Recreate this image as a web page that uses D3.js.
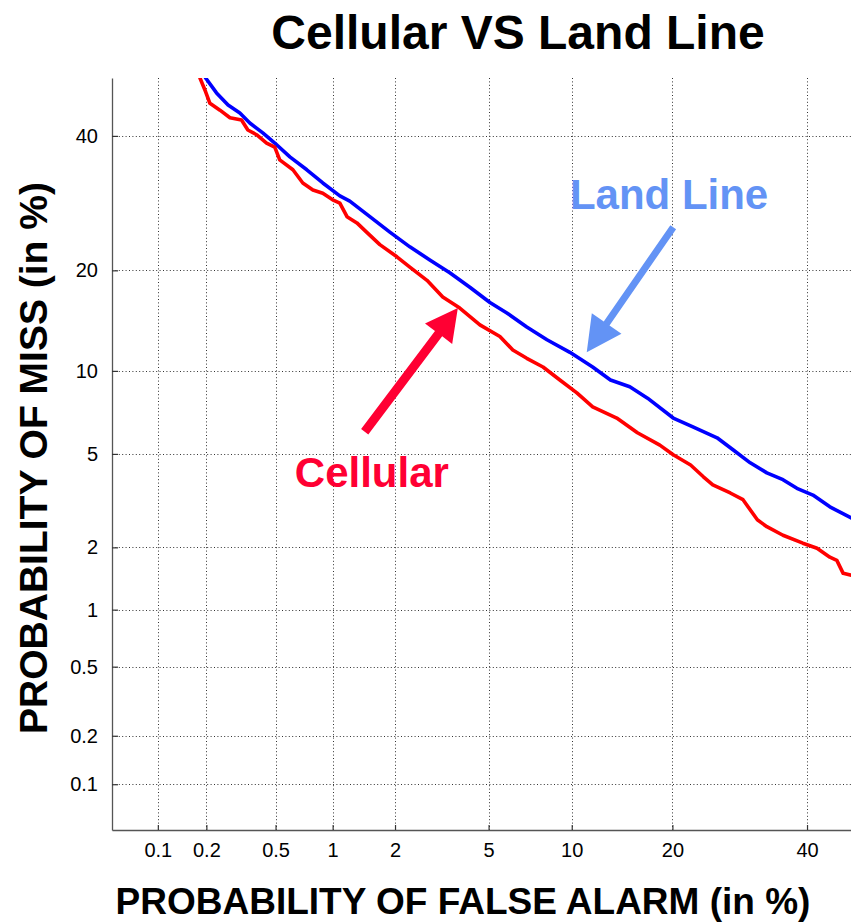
<!DOCTYPE html>
<html>
<head>
<meta charset="utf-8">
<script src="https://cdn.jsdelivr.net/npm/d3@7"></script>
<style>
  html, body { margin: 0; padding: 0; background: #fff; }
  svg { display: block; font-family: "Liberation Sans", Arial, Helvetica, sans-serif; }
</style>
</head>
<body>
<svg id="chart" width="851" height="924"></svg>
<script>
// Tick positions (percent) and their labels, shared by both axes
const tickValues = [0.1, 0.2, 0.5, 1, 2, 5, 10, 20, 40];
const tickLabels = ["0.1", "0.2", "0.5", "1", "2", "5", "10", "20", "40"];

// DET curve: Land Line (false alarm %, miss %)
const landLinePfa = [0.198, 0.230, 0.269, 0.315, 0.359, 0.425, 0.495, 0.598, 0.736, 0.891,
  1.087, 1.218, 1.524, 1.893, 2.335, 2.86, 3.48, 4.21, 5.06, 5.88,
  6.97, 8.23, 9.86, 11.7, 13.3, 15.2, 17.1, 20.1, 22.6, 25.9,
  28.2, 30.8, 33.4, 36.0, 38.3, 41.0, 43.9, 47.6, 50];
const landLinePmiss = [50, 47.4, 45.3, 43.9, 42.2, 40.5, 38.8, 36.5, 34.4, 32.3,
  30.3, 29.5, 27.2, 25.0, 23.0, 21.3, 19.7, 18.0, 16.3, 15.2,
  13.8, 12.6, 11.5, 10.3, 9.32, 8.83, 8.06, 6.84, 6.34, 5.77,
  5.19, 4.61, 4.20, 3.94, 3.63, 3.40, 3.03, 2.71, 2.55];

// DET curve: Cellular (false alarm %, miss %)
const cellularPfa = [0.183, 0.198, 0.210, 0.241, 0.276, 0.322, 0.350, 0.392, 0.446, 0.495,
  0.527, 0.621, 0.701, 0.792, 0.891, 1.00, 1.087, 1.18, 1.32, 1.47,
  1.70, 2.04, 2.335, 2.78, 3.25, 3.83, 4.62, 5.53, 6.19, 6.97,
  7.97, 9.12, 10.4, 11.7, 13.9, 16.0, 18.5, 20.1, 22.3, 24.0,
  25.3, 27.8, 29.7, 31.9, 33.4, 36.0, 39.3, 41.7, 43.9, 45.1,
  46.2, 47.6, 50];
const cellularPmiss = [50, 47.6, 45.6, 44.4, 43.1, 42.7, 41.0, 40.2, 38.8, 38.1,
  36.0, 34.4, 32.3, 31.2, 30.7, 29.7, 29.2, 27.2, 26.3, 25.0,
  23.3, 21.7, 20.4, 18.8, 16.9, 15.7, 14.0, 12.9, 11.7, 11.0,
  10.3, 9.32, 8.41, 7.51, 6.84, 6.03, 5.41, 4.96, 4.52, 4.05,
  3.75, 3.47, 3.25, 2.66, 2.48, 2.27, 2.09, 1.98, 1.80, 1.74,
  1.51, 1.48, 1.46];

// Axis limits in percent
const axisMin = 0.05, axisMax = 50;

// Inverse of the standard normal CDF (Acklam's rational approximation)
function probit(p) {
  const a = [-3.969683028665376e+01, 2.209460984245205e+02, -2.759285104469687e+02, 1.383577518672690e+02, -3.066479806614716e+01, 2.506628277459239e+00];
  const b = [-5.447609879822406e+01, 1.615858368580409e+02, -1.556989798598866e+02, 6.680131188771972e+01, -1.328068155288572e+01];
  const c = [-7.784894002430293e-03, -3.223964580411365e-01, -2.400758277161838e+00, -2.549732539343734e+00, 4.374664141464968e+00, 2.938163982698783e+00];
  const d = [7.784695709041462e-03, 3.224671290700398e-01, 2.445134137142996e+00, 3.754408661907416e+00];
  const pl = 0.02425, ph = 1 - pl;
  let q, r;
  if (p < pl) {
    q = Math.sqrt(-2 * Math.log(p));
    return (((((c[0]*q+c[1])*q+c[2])*q+c[3])*q+c[4])*q+c[5]) / ((((d[0]*q+d[1])*q+d[2])*q+d[3])*q+1);
  }
  if (p <= ph) {
    q = p - 0.5; r = q * q;
    return (((((a[0]*r+a[1])*r+a[2])*r+a[3])*r+a[4])*r+a[5])*q / (((((b[0]*r+b[1])*r+b[2])*r+b[3])*r+b[4])*r+1);
  }
  q = Math.sqrt(-2 * Math.log(1 - p));
  return -(((((c[0]*q+c[1])*q+c[2])*q+c[3])*q+c[4])*q+c[5]) / ((((d[0]*q+d[1])*q+d[2])*q+d[3])*q+1);
}
const dev = pct => probit(pct / 100);

// Plot frame
const plot = { left: 112, right: 865, top: 78, bottom: 830 };

// Normal-deviate scales
const xs = d3.scaleLinear().domain([dev(axisMin), dev(axisMax)]).range([plot.left, plot.right]);
const ys = d3.scaleLinear().domain([dev(axisMin), dev(axisMax)]).range([plot.bottom, plot.top]);
const x = pct => xs(dev(pct));
const y = pct => ys(dev(pct));

const svg = d3.select("#chart");

svg.append("defs").append("clipPath").attr("id", "plotClip")
  .append("rect")
  .attr("x", plot.left).attr("y", plot.top)
  .attr("width", plot.right - plot.left).attr("height", plot.bottom - plot.top);

// Dotted grid
const grid = svg.append("g").attr("stroke", "#333").attr("stroke-width", 1)
  .attr("stroke-dasharray", "1,2.4");
grid.selectAll("line.vx").data(tickValues).join("line")
  .attr("x1", d => Math.round(x(d)) + 0.5).attr("x2", d => Math.round(x(d)) + 0.5)
  .attr("y1", plot.top).attr("y2", plot.bottom);
grid.selectAll("line.hy").data(tickValues).join("line")
  .attr("y1", d => Math.round(y(d)) + 0.5).attr("y2", d => Math.round(y(d)) + 0.5)
  .attr("x1", plot.left).attr("x2", plot.right);

// Axes
const tickDev = tickValues.map(dev);
const fmt = v => tickLabels[tickDev.indexOf(v)];

const xAxis = svg.append("g")
  .attr("transform", `translate(0,${plot.bottom})`)
  .call(d3.axisBottom(xs).tickValues(tickDev).tickFormat(fmt)
    .tickSizeInner(-5).tickSizeOuter(0).tickPadding(13));
const yAxis = svg.append("g")
  .attr("transform", `translate(${plot.left},0)`)
  .call(d3.axisLeft(ys).tickValues(tickDev).tickFormat(fmt)
    .tickSizeInner(-6).tickSizeOuter(0).tickPadding(14));

[xAxis, yAxis].forEach(g => {
  g.select(".domain").attr("stroke", "#555").attr("stroke-width", 1.3);
  g.selectAll(".tick line").attr("stroke", "#333").attr("stroke-width", 1.2);
  g.selectAll(".tick text").attr("font-size", 20).attr("fill", "#000")
    .attr("font-family", "'Liberation Sans', Arial, sans-serif");
});

// Curves
const line = d3.line().x(d => x(d[0])).y(d => y(d[1]));
const curves = svg.append("g").attr("clip-path", "url(#plotClip)")
  .attr("fill", "none").attr("stroke-width", 3.6)
  .attr("stroke-linejoin", "round").attr("stroke-linecap", "round");
curves.append("path")
  .datum(landLinePfa.map((v, i) => [v, landLinePmiss[i]]))
  .attr("stroke", "#0000ff").attr("d", line);
curves.append("path")
  .datum(cellularPfa.map((v, i) => [v, cellularPmiss[i]]))
  .attr("stroke", "#ff0000").attr("d", line);

// Annotation arrows (tail and tip given in percent coordinates)
function arrow(tail, tip, shaft, headLen, headWidth, color) {
  const x1 = x(tail[0]), y1 = y(tail[1]), x2 = x(tip[0]), y2 = y(tip[1]);
  const len = Math.hypot(x2 - x1, y2 - y1);
  const ux = (x2 - x1) / len, uy = (y2 - y1) / len;
  const nx = -uy, ny = ux;
  const bx = x2 - ux * headLen, by = y2 - uy * headLen;
  const pts = [
    [x1 + nx * shaft / 2, y1 + ny * shaft / 2],
    [bx + nx * shaft / 2, by + ny * shaft / 2],
    [bx + nx * headWidth / 2, by + ny * headWidth / 2],
    [x2, y2],
    [bx - nx * headWidth / 2, by - ny * headWidth / 2],
    [bx - nx * shaft / 2, by - ny * shaft / 2],
    [x1 - nx * shaft / 2, y1 - ny * shaft / 2]
  ];
  svg.append("polygon").attr("points", pts.map(p => p.join(",")).join(" "))
    .attr("fill", color);
}
arrow([20.1, 25.7], [11.2, 11.5], 7, 35, 36, "#6393f5");
arrow([1.44, 6.08], [3.76, 15.7], 9, 32, 34, "#ff0033");

svg.append("text")
  .attr("x", x(9.86)).attr("y", y(28.3))
  .attr("font-size", 42).attr("font-weight", "bold").attr("fill", "#6393f5")
  .text("Land Line");
svg.append("text")
  .attr("x", x(0.636)).attr("y", y(3.67))
  .attr("font-size", 42).attr("font-weight", "bold").attr("fill", "#ff0033")
  .text("Cellular");

// Title and axis titles
svg.append("text")
  .attr("x", 518).attr("y", 49).attr("text-anchor", "middle")
  .attr("font-size", 48).attr("font-weight", "bold").attr("fill", "#000")
  .text("Cellular VS Land Line");
svg.append("text")
  .attr("x", 463).attr("y", 914).attr("text-anchor", "middle")
  .attr("font-size", 37).attr("font-weight", "bold").attr("fill", "#000")
  .text("PROBABILITY OF FALSE ALARM (in %)");
svg.append("text")
  .attr("transform", "translate(47,458) rotate(-90)").attr("text-anchor", "middle")
  .attr("font-size", 39).attr("font-weight", "bold").attr("fill", "#000")
  .text("PROBABILITY OF MISS (in %)");
</script>
</body>
</html>
